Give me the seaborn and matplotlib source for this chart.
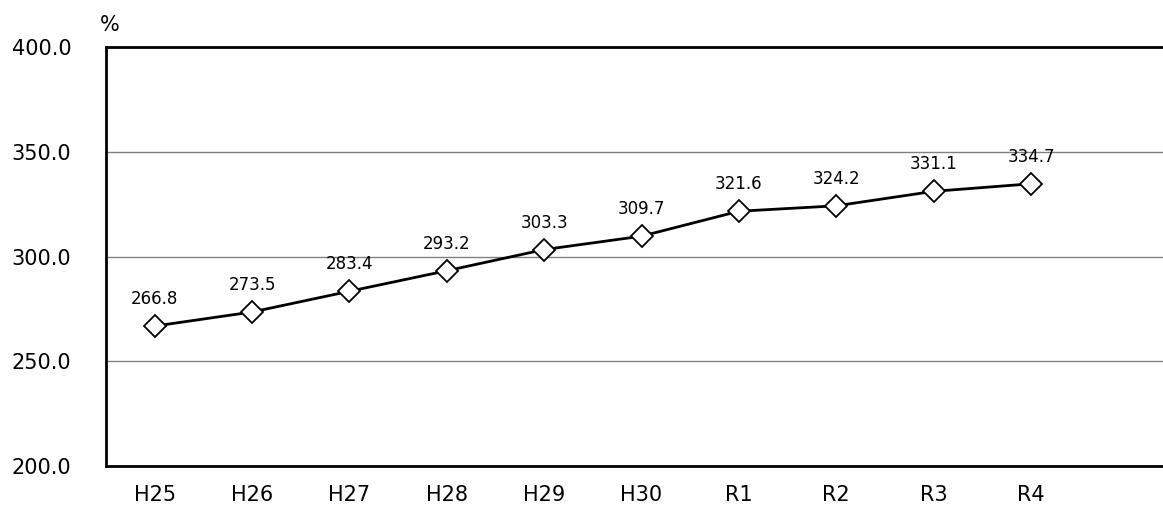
import matplotlib
matplotlib.use("Agg")
import matplotlib.pyplot as plt
import seaborn as sns
import pandas as pd
from matplotlib.ticker import FixedLocator

# data
years = ["H25", "H26", "H27", "H28", "H29", "H30", "R1", "R2", "R3", "R4"]
values = [266.8, 273.5, 283.4, 293.2, 303.3, 309.7, 321.6, 324.2, 331.1, 334.7]
y_ticks = [200.0, 250.0, 300.0, 350.0, 400.0]

df = pd.DataFrame({"pos": range(len(years)), "year": years, "value": values})

sns.set_theme(style="white", rc={"text.color": "black", "xtick.color": "black",
                                 "ytick.color": "black", "axes.labelcolor": "black"})
plt.rcParams['font.family'] = ['DejaVu Sans']

fig = plt.figure(figsize=(11.63, 5.08), dpi=100)
# axes run a bit past the right edge (empty 11th slot is cut off)
ax = fig.add_axes([106 / 1163, 42 / 508, 1071 / 1163, 419 / 508])

sns.lineplot(data=df, x="pos", y="value", ax=ax, color="black", linewidth=2,
             marker="D", markersize=11, markerfacecolor="white",
             markeredgecolor="black", markeredgewidth=1.3, zorder=3)

# data labels above each point
for p, v in zip(df["pos"], df["value"]):
    ax.annotate(f"{v:.1f}", (p, v), xytext=(0, 13), textcoords="offset points",
                ha="center", va="bottom", fontsize=12, color="black")

ax.set_xlim(-0.5, 10.5)
ax.set_ylim(200, 400)
ax.set_yticks(y_ticks)
ax.set_yticklabels([f"{t:.1f}" for t in y_ticks], fontsize=15)
ax.set_xticks(range(len(years)))
ax.set_xticklabels(years, fontsize=15)
ax.xaxis.set_minor_locator(FixedLocator([i + 0.5 for i in range(10)]))
ax.tick_params(axis="x", which="major", length=0, pad=14)
ax.tick_params(axis="x", which="minor", direction="in", length=7, width=1, color="black")
ax.tick_params(axis="y", length=0, pad=25)

ax.yaxis.grid(True, color="#808080", linewidth=1)
ax.set_axisbelow(True)
ax.set_xlabel("")
ax.set_ylabel("")

for s in ["left", "bottom", "top"]:
    ax.spines[s].set_color("black")
    ax.spines[s].set_linewidth(2)
ax.spines["right"].set_visible(False)

fig.text(110 / 1163, 1 - 25 / 508, "%", fontsize=15, ha="center", va="center",
         color="black")

plt.savefig("out.png", dpi=100)
